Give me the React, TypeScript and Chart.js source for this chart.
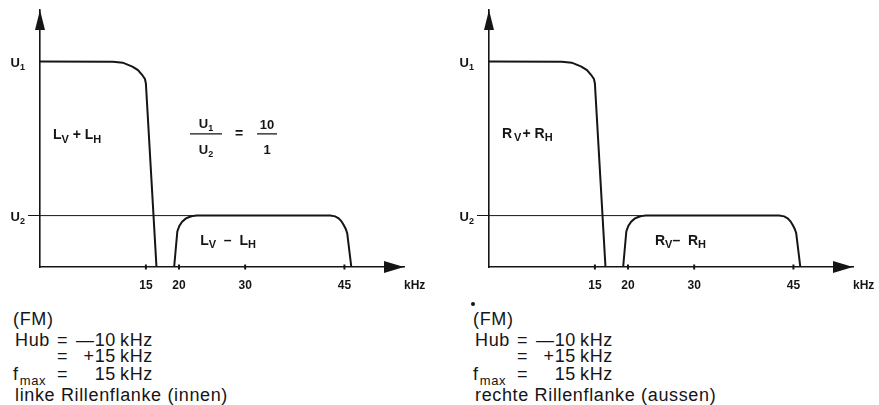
import React, { useEffect, useRef } from 'react';
import { Chart, registerables } from 'chart.js';

Chart.register(...registerables);

// ---------- data ----------
const X_MIN = -1;
const X_MAX = 54;
const Y_MIN = 0;
const Y_MAX = 5;

const xTicks = [15, 20, 30, 45];
const xUnit = 'kHz';
const yLevels = [4, 1];
const yLevelSubs = ['1', '2'];

// sum signal (L_V + L_H / R_V + R_H): frequency (kHz) and level
const sumX = [-1, 10.0, 11.5, 12.96, 13.8, 14.42, 14.85, 15.0, 16.6];
const sumY = [4.0, 3.995, 3.975, 3.9, 3.83, 3.74, 3.66, 3.57, 0];

// difference signal (L_V - L_H / R_V - R_H)
const diffX = [19.27, 19.75, 20.05, 20.48, 21.0, 21.46, 22.0, 22.66, 42.84, 43.6, 44.12, 44.55, 44.89, 45.2, 45.42, 46.04];
const diffY = [0, 0.69, 0.8, 0.88, 0.94, 0.967, 0.99, 1.0, 1.0, 0.985, 0.947, 0.89, 0.817, 0.74, 0.656, 0];

// U2 reference level line
const refX = [-1, 22.66];
const refY = [1, 1];

// fraction U1/U2 = 10/1
const ratioNum = '10';
const ratioDen = '1';

// text block below the diagrams
const fmLabel = '(FM)';
const hubLabel = 'Hub';
const hubValues = ['—10', '+15'];
const fmaxValue = '15';
const flankTexts = ['linke Rillenflanke (innen)', 'rechte Rillenflanke (aussen)'];
const channelLetters = ['L', 'R'];

// ---------- styling ----------
const INK = '#151515';
const FAMILY = '"Liberation Sans", Arial, Helvetica, sans-serif';
Chart.defaults.font.family = FAMILY;

type Seg = { t: string; sub?: boolean; dx?: number };

const zip = (xs: number[], ys: number[]) => xs.map((x, i) => ({ x, y: ys[i] }));

function drawRich(
  ctx: CanvasRenderingContext2D,
  segs: Seg[],
  x: number,
  y: number,
  size: number,
  subSize: number,
  subDy: number,
  align: 'left' | 'center' | 'right'
) {
  const font = (s: number) => `bold ${s}px ${FAMILY}`;
  let total = 0;
  const widths = segs.map((s) => {
    ctx.font = font(s.sub ? subSize : size);
    const w = ctx.measureText(s.t).width + (s.dx || 0);
    total += w;
    return w;
  });
  let cx = align === 'left' ? x : align === 'center' ? x - total / 2 : x - total;
  ctx.textAlign = 'left';
  ctx.textBaseline = 'alphabetic';
  ctx.fillStyle = INK;
  segs.forEach((s, i) => {
    ctx.font = font(s.sub ? subSize : size);
    ctx.fillText(s.t, cx + (s.dx || 0), s.sub ? y + subDy : y);
    cx += widths[i];
  });
}

function labelSets(letter: string) {
  if (letter === 'L') {
    return [
      { x: 0.96, y: 2.49, segs: [{ t: 'L' }, { t: 'V', sub: true }, { t: ' + ' }, { t: 'L' }, { t: 'H', sub: true }] as Seg[] },
      { x: 23.2, y: 0.43, segs: [{ t: 'L' }, { t: 'V', sub: true }, { t: '  –  ' }, { t: 'L' }, { t: 'H', sub: true }] as Seg[] },
    ];
  }
  return [
    { x: 0.96, y: 2.51, segs: [{ t: 'R' }, { t: 'V', sub: true, dx: 2 }, { t: '+', dx: 1 }, { t: 'R', dx: 4 }, { t: 'H', sub: true }] as Seg[] },
    { x: 24.08, y: 0.43, segs: [{ t: 'R' }, { t: 'V', sub: true }, { t: '–  ' }, { t: 'R' }, { t: 'H', sub: true }] as Seg[] },
  ];
}

function makeDecor(letter: string, showFraction: boolean) {
  return {
    id: 'decor' + letter,
    afterDraw(chart: any) {
      const { ctx, chartArea } = chart;
      const xs = chart.scales.x;
      const ys = chart.scales.y;
      ctx.save();
      ctx.fillStyle = INK;
      ctx.strokeStyle = INK;

      // arrow heads
      ctx.beginPath();
      ctx.moveTo(chartArea.left, chartArea.top);
      ctx.lineTo(chartArea.left - 5, chartArea.top + 20);
      ctx.lineTo(chartArea.left + 5, chartArea.top + 20);
      ctx.closePath();
      ctx.fill();
      ctx.beginPath();
      ctx.moveTo(chartArea.right, chartArea.bottom);
      ctx.lineTo(chartArea.right - 20, chartArea.bottom - 6);
      ctx.lineTo(chartArea.right - 20, chartArea.bottom + 6);
      ctx.closePath();
      ctx.fill();

      // tick marks crossing the x axis
      ctx.lineWidth = 2;
      xTicks.forEach((v) => {
        const px = xs.getPixelForValue(v);
        ctx.beginPath();
        ctx.moveTo(px, chartArea.bottom - 2.5);
        ctx.lineTo(px, chartArea.bottom + 2.5);
        ctx.stroke();
      });

      // unit
      ctx.font = `bold 12px ${FAMILY}`;
      ctx.textAlign = 'left';
      ctx.textBaseline = 'middle';
      ctx.fillText(xUnit, chartArea.right, chartArea.bottom + 19);

      // y levels U1, U2
      yLevels.forEach((v, i) => {
        const py = ys.getPixelForValue(v);
        drawRich(ctx, [{ t: 'U' }, { t: yLevelSubs[i], sub: true }], chartArea.left - 15, py + 5.5, 13, 9, 3, 'right');
      });

      // curve labels
      labelSets(letter).forEach((l) => {
        drawRich(ctx, l.segs, xs.getPixelForValue(l.x), ys.getPixelForValue(l.y), 14, 11, 3.5, 'left');
      });

      // fraction
      if (showFraction) {
        const by = ys.getPixelForValue(2.59);
        const c1 = xs.getPixelForValue(24.08);
        const ce = xs.getPixelForValue(29.07);
        const c2 = xs.getPixelForValue(33.3);
        ctx.lineWidth = 1.2;
        ctx.beginPath();
        ctx.moveTo(c1 - 16, by);
        ctx.lineTo(c1 + 16, by);
        ctx.moveTo(c2 - 10, by);
        ctx.lineTo(c2 + 10, by);
        ctx.stroke();
        drawRich(ctx, [{ t: 'U' }, { t: yLevelSubs[0], sub: true }], c1, by - 6, 13, 9, 3, 'center');
        drawRich(ctx, [{ t: 'U' }, { t: yLevelSubs[1], sub: true }], c1, by + 20, 13, 9, 3, 'center');
        ctx.font = `bold 14px ${FAMILY}`;
        ctx.textAlign = 'center';
        ctx.textBaseline = 'middle';
        ctx.fillText('=', ce, by);
        drawRich(ctx, [{ t: ratioNum }], c2, by - 5, 13, 9, 3, 'center');
        drawRich(ctx, [{ t: ratioDen }], c2, by + 20, 13, 9, 3, 'center');
      }
      ctx.restore();
    },
  };
}

function makeConfig(width: number, letter: string, showFraction: boolean): any {
  const line = (xs: number[], ys: number[], w: number) => ({
    data: zip(xs, ys),
    borderColor: INK,
    borderWidth: w,
    showLine: true,
    pointRadius: 0,
    tension: 0,
    clip: 4,
  });
  return {
    type: 'scatter',
    data: {
      datasets: [line(refX, refY, 1), line(sumX, sumY, 2), line(diffX, diffY, 2)],
    },
    options: {
      responsive: false,
      animation: false,
      events: [],
      layout: { padding: { left: 0, top: 10, right: width - 404, bottom: 0 } },
      plugins: { legend: { display: false }, tooltip: { enabled: false }, title: { display: false } },
      scales: {
        x: {
          type: 'linear',
          min: X_MIN,
          max: X_MAX,
          grid: { display: false },
          border: { display: true, color: INK, width: 1.6 },
          afterBuildTicks: (s: any) => {
            s.ticks = xTicks.map((v) => ({ value: v }));
          },
          afterFit: (s: any) => {
            s.height = 33;
          },
          ticks: {
            autoSkip: false,
            maxRotation: 0,
            padding: 3,
            color: INK,
            font: { family: FAMILY, size: 12, weight: 'bold' },
            callback: (v: any) => String(v),
          },
        },
        y: {
          type: 'linear',
          min: Y_MIN,
          max: Y_MAX,
          grid: {
            display: true,
            drawOnChartArea: false,
            drawTicks: true,
            tickLength: 12,
            lineWidth: 1,
            color: (c: any) => (c.tick && c.tick.value === 1 ? INK : 'rgba(0,0,0,0)'),
          },
          border: { display: true, color: INK, width: 1.6 },
          ticks: { display: false },
          afterBuildTicks: (s: any) => {
            s.ticks = yLevels.map((v) => ({ value: v }));
          },
          afterFit: (s: any) => {
            s.width = 40;
          },
        },
      },
    },
    plugins: [makeDecor(letter, showFraction)],
  };
}

function Diagram({ left, width, letter, showFraction }: { left: number; width: number; letter: string; showFraction: boolean }) {
  const ref = useRef<HTMLCanvasElement>(null);
  useEffect(() => {
    const chart = new Chart(ref.current as HTMLCanvasElement, makeConfig(width, letter, showFraction));
    return () => chart.destroy();
  }, []);
  return (
    <canvas
      ref={ref}
      width={width}
      height={300}
      style={{ position: 'absolute', left, top: 0, width, height: 300 }}
    />
  );
}

const txt: React.CSSProperties = {
  position: 'absolute',
  whiteSpace: 'pre',
  fontFamily: FAMILY,
  fontSize: 18,
  lineHeight: '18px',
  letterSpacing: '0.65px',
  color: INK,
};

function TextBlock({ x0, flank }: { x0: number; flank: string }) {
  const base = [325, 346, 362, 380, 401];
  const top = (b: number) => b - 15;
  return (
    <>
      <span style={{ ...txt, left: x0 + 13, top: top(base[0]) }}>{fmLabel}</span>
      <span style={{ ...txt, left: x0 + 15, top: top(base[1]) }}>{hubLabel}</span>
      {[0, 1, 2].map((r) => (
        <React.Fragment key={r}>
          <span style={{ ...txt, left: x0 + 57, top: top(base[r + 1]) }}>=</span>
          <span style={{ ...txt, left: x0 + 70, width: 46, textAlign: 'right', top: top(base[r + 1]) }}>
            {r < 2 ? hubValues[r] : fmaxValue}
          </span>
          <span style={{ ...txt, left: x0 + 120, top: top(base[r + 1]) }}>{xUnit}</span>
        </React.Fragment>
      ))}
      <span style={{ ...txt, left: x0 + 13, top: top(base[3]) }}>
        f<span style={{ fontSize: 13, position: 'relative', top: 5, marginLeft: 1 }}>max</span>
      </span>
      <span style={{ ...txt, left: x0 + 15, top: top(base[4]) }}>{flank}</span>
    </>
  );
}

export default function App() {
  return (
    <div
      style={{
        position: 'absolute',
        left: 0,
        top: 0,
        width: 879,
        height: 405,
        overflow: 'hidden',
        background: '#fff',
      }}
    >
      <Diagram left={0} width={440} letter={channelLetters[0]} showFraction={true} />
      <Diagram left={449} width={430} letter={channelLetters[1]} showFraction={false} />
      <TextBlock x0={0} flank={flankTexts[0]} />
      <TextBlock x0={460} flank={flankTexts[1]} />
      <div style={{ position: 'absolute', left: 471, top: 302, width: 4, height: 4, borderRadius: 2, background: INK }} />
    </div>
  );
}
